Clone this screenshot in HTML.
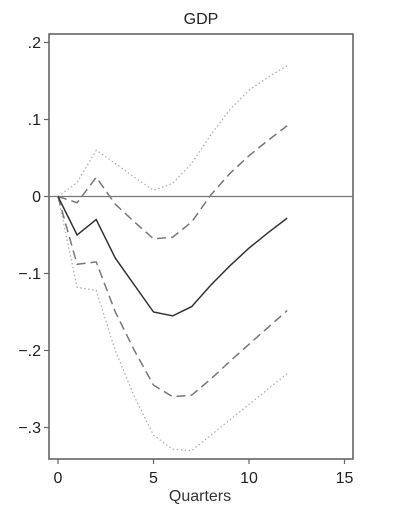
<!DOCTYPE html>
<html><head><meta charset="utf-8"><style>
body{margin:0;background:#fff}
svg{display:block;font-family:"Liberation Sans",Arial,sans-serif}
</style></head><body>
<svg id="chart" width="407" height="517">
<rect width="407" height="517" fill="#fff"/>
<text x="201" y="24" font-size="16" text-anchor="middle" fill="#222">GDP</text>
<rect x="49" y="34" width="304" height="425" fill="none" stroke="#666" stroke-width="1.6"/>
<g id="axes"></g>
<g id="series"></g>
<text x="200" y="501" font-size="16" text-anchor="middle" fill="#333">Quarters</text>
</svg>
<script>
const quarters=[0,1,2,3,4,5,6,7,8,9,10,11,12];
const pointEst=[0,-0.05,-0.03,-0.08,-0.115,-0.15,-0.155,-0.143,-0.115,-0.09,-0.067,-0.047,-0.028];
const upper1=[0,-0.008,0.025,-0.01,-0.033,-0.055,-0.053,-0.033,0.002,0.03,0.053,0.073,0.092];
const lower1=[0,-0.088,-0.085,-0.15,-0.2,-0.245,-0.26,-0.258,-0.237,-0.214,-0.192,-0.17,-0.148];
const upper2=[0,0.018,0.06,0.043,0.025,0.008,0.017,0.043,0.08,0.113,0.138,0.155,0.17];
const lower2=[0,-0.118,-0.122,-0.2,-0.26,-0.31,-0.328,-0.33,-0.31,-0.29,-0.27,-0.25,-0.23];
const yTicks=[0.2,0.1,0,-0.1,-0.2,-0.3];
const yTickLabels=[".2",".1","0","\u2212.1","\u2212.2","\u2212.3"];
const xTicks=[0,5,10,15];
const xTickLabels=["0","5","10","15"];

const NS="http://www.w3.org/2000/svg";
const X=v=>58+v*19.1;
const Y=v=>196.5-v*770;
function mk(tag,attrs,parent){const e=document.createElementNS(NS,tag);for(const k in attrs)e.setAttribute(k,attrs[k]);parent.appendChild(e);return e;}
const ax=document.getElementById('axes'), sr=document.getElementById('series');
yTicks.forEach((t,i)=>{
  const l=mk('line',{x1:44,x2:49,y1:Y(t),y2:Y(t),stroke:'#666','stroke-width':1.2},ax);
  
  
  const tx=mk('text',{x:41,y:Y(t)+5.5,'font-size':16,'text-anchor':'end',fill:'#222'},ax);
  tx.textContent=yTickLabels[i];
  
  
});
xTicks.forEach((t,i)=>{
  const l=mk('line',{x1:X(t),x2:X(t),y1:459,y2:464,stroke:'#666','stroke-width':1.2},ax);
  
  
  const tx=mk('text',{x:X(t),y:483,'font-size':16,'text-anchor':'middle',fill:'#222'},ax);
  tx.textContent=xTickLabels[i];
  
  
});
const zl=mk('line',{x1:49,x2:353,y1:Y(0),y2:Y(0),stroke:'#777','stroke-width':1.3},ax);


function line(vals,style,name){
  const d=vals.map((v,i)=>(i?'L':'M')+X(quarters[i]).toFixed(1)+','+Y(v).toFixed(1)).join('');
  const p=mk('path',Object.assign({d,fill:'none'},style),sr);
  
  
}
line(upper2,{stroke:'#aaa','stroke-width':1.2,'stroke-dasharray':'1.5,2.5'},'upper-outer-band');
line(lower2,{stroke:'#aaa','stroke-width':1.2,'stroke-dasharray':'1.5,2.5'},'lower-outer-band');
line(upper1,{stroke:'#777','stroke-width':1.5,'stroke-dasharray':'9,5'},'upper-inner-band');
line(lower1,{stroke:'#777','stroke-width':1.5,'stroke-dasharray':'9,5'},'lower-inner-band');
line(pointEst,{stroke:'#333','stroke-width':1.5},'point-estimate');
</script>
</body></html>
